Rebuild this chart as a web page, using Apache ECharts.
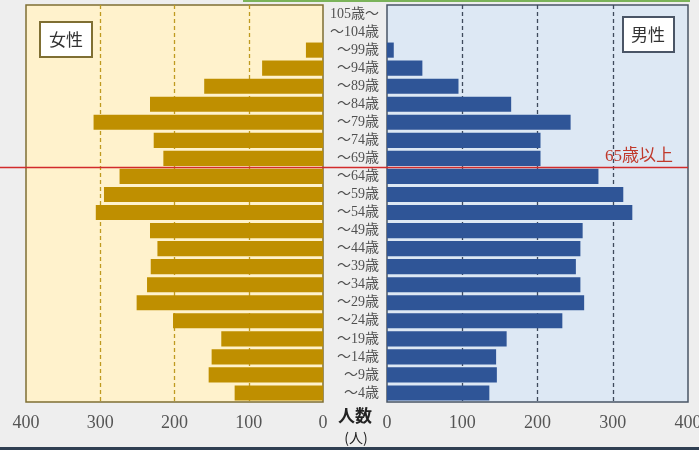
<!DOCTYPE html>
<html>
<head>
<meta charset="utf-8">
<script src="https://cdn.jsdelivr.net/npm/echarts@6/dist/echarts.min.js"></script>
<style>
html,body{margin:0;padding:0;background:#eeeeee;}
#c{width:699px;height:450px;}
</style>
</head>
<body>
<div id="c"></div>
<script>
const categories = ['105歳～','～104歳','～99歳','～94歳','～89歳','～84歳','～79歳','～74歳','～69歳','～64歳','～59歳','～54歳','～49歳','～44歳','～39歳','～34歳','～29歳','～24歳','～19歳','～14歳','～9歳','～4歳'];
const female = [0,0,23,82,160,233,309,228,215,274,295,306,233,223,232,237,251,202,137,150,154,119];
const male = [0,0,9,47,95,165,244,204,204,281,314,326,260,257,251,257,262,233,159,145,146,136];
const xTicks = [0,100,200,300,400];

const serif = '"Liberation Serif","DejaVu Serif","Noto Sans CJK JP",serif';
const chart = echarts.init(document.getElementById('c'));

function xAxisFor(grid, inverse, splitColor) {
  return {
    type: 'value', gridIndex: grid, inverse: inverse,
    min: xTicks[0], max: xTicks[xTicks.length - 1], interval: xTicks[1] - xTicks[0],
    axisLine: {show: false}, axisTick: {show: false},
    axisLabel: {fontFamily: serif, fontSize: 18, color: '#555', margin: 12, hideOverlap: false},
    splitLine: {show: true, showMinLine: false, showMaxLine: false,
      lineStyle: {type: [4, 3], color: splitColor, width: 1.3}}
  };
}

chart.setOption({
  backgroundColor: '#eeeeee',
  animation: false,
  grid: [
    {left: 26, width: 297, top: 5, height: 397, show: true, outerBoundsMode: 'none', containLabel: false,
     backgroundColor: '#fff2cc', borderColor: '#7f6f33', borderWidth: 1.5},
    {left: 387, width: 301, top: 5, height: 397, show: true, outerBoundsMode: 'none', containLabel: false,
     backgroundColor: '#dde8f4', borderColor: '#4a5566', borderWidth: 1.5}
  ],
  xAxis: [xAxisFor(0, true, '#bf9a20'), xAxisFor(1, false, '#3e4a5c')],
  yAxis: [
    {type: 'category', gridIndex: 0, data: categories, inverse: true,
     axisLine: {show: false}, axisTick: {show: false}, axisLabel: {show: false}},
    {type: 'category', gridIndex: 1, data: categories, inverse: true, position: 'left',
     axisLine: {show: false}, axisTick: {show: false},
     axisLabel: {fontFamily: serif, fontSize: 14, color: '#505050', margin: 8, interval: 0, hideOverlap: false}}
  ],
  series: [
    {type: 'bar', name: '女性', xAxisIndex: 0, yAxisIndex: 0, data: female,
     barCategoryGap: '16%', itemStyle: {color: '#bf8f00'}},
    {type: 'bar', name: '男性', xAxisIndex: 1, yAxisIndex: 1, data: male,
     barCategoryGap: '16%', itemStyle: {color: '#2f5597'}}
  ]
});

// 65歳以上 boundary between ～69歳 and ～64歳
const yA = chart.convertToPixel({yAxisIndex: 1}, categories[8]);
const yB = chart.convertToPixel({yAxisIndex: 1}, categories[9]);
const yLine = (yA + yB) / 2;
const xRight = chart.convertToPixel({xAxisIndex: 1}, xTicks[xTicks.length - 1]);

chart.setOption({
  graphic: [
    {type: 'rect', shape: {x: 243, y: 0, width: 447, height: 2}, style: {fill: '#7bb35a'}, z: 100},
    {type: 'rect', shape: {x: 0, y: 447, width: 699, height: 3}, style: {fill: '#2f3f52'}, z: 100},
    {type: 'line', shape: {x1: 0, y1: yLine, x2: xRight, y2: yLine},
     style: {stroke: '#d22b2b', lineWidth: 1.5}, z: 100},
    {type: 'text', style: {text: '65歳以上', x: 673, y: yLine - 2, align: 'right', verticalAlign: 'bottom',
      font: '17px ' + serif, fill: '#c0392b'}, z: 100},
    {type: 'rect', shape: {x: 40, y: 22, width: 52, height: 35},
     style: {fill: '#ffffff', stroke: '#7f6f33', lineWidth: 2}, z: 100},
    {type: 'text', style: {text: '女性', x: 66, y: 40, align: 'center', verticalAlign: 'middle',
      font: '17px "Noto Sans CJK JP"', fill: '#333'}, z: 101},
    {type: 'rect', shape: {x: 623, y: 17, width: 51, height: 35},
     style: {fill: '#ffffff', stroke: '#4a5566', lineWidth: 2}, z: 100},
    {type: 'text', style: {text: '男性', x: 648, y: 35, align: 'center', verticalAlign: 'middle',
      font: '17px "Noto Sans CJK JP"', fill: '#333'}, z: 101},
    {type: 'text', style: {text: '人数', x: 355, y: 416, align: 'center', verticalAlign: 'middle',
      font: 'bold 17px "Noto Sans CJK JP"', fill: '#222'}, z: 100},
    {type: 'text', style: {text: '(人)', x: 356, y: 438, align: 'center', verticalAlign: 'middle',
      font: '14px "Noto Sans CJK JP"', fill: '#222'}, z: 100}
  ]
});
</script>
</body>
</html>
